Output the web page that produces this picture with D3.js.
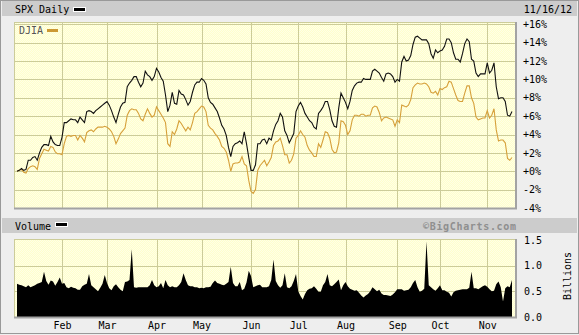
<!DOCTYPE html>
<html>
<head>
<meta charset="utf-8">
<script src="https://cdn.jsdelivr.net/npm/d3@7"></script>
<style>
body { margin: 0; background: #eeeeee; }
svg { display: block; }
text { font-family: "DejaVu Sans Mono", monospace; font-size: 10px; }
</style>
</head>
<body>
<svg id="chart" width="579" height="335"></svg>
<script>
// percent change since Jan 3 2012, one value per trading day (Jan 3 .. Nov 16)
var spx = [
  0.0, 0.1, 0.3, 0.1, 0.2, 1.2, 1.2, 1.5, 1.6, 1.2,
  2.0, 2.6, 2.9, 2.9, 2.8, 3.8, 3.2, 2.9, 2.8, 2.8,
  3.7, 5.3, 5.3, 5.5, 5.7, 5.6, 5.6, 5.3, 5.9, 5.6,
  5.3, 6.5, 6.6, 6.5, 6.3, 6.6, 6.8, 7.0, 7.2, 7.4,
  7.6, 7.2, 6.6, 5.9, 5.3, 6.2, 7.0, 7.4, 7.5, 9.2,
  9.6, 9.9, 10.3, 10.3, 9.7, 9.2, 9.6, 10.9, 10.5, 10.3,
  9.9, 10.3, 11.2, 10.8, 10.2, 9.8, 8.3, 6.5, 7.2, 8.6,
  7.4, 7.3, 8.8, 8.4, 8.3, 7.8, 7.2, 7.6, 8.6, 9.4,
  9.7, 9.7, 10.1, 9.9, 9.5, 8.0, 7.5, 7.3, 6.9, 6.5,
  5.8, 5.0, 4.6, 3.9, 2.6, 1.6, 2.7, 3.0, 3.1, 3.3,
  3.0, 4.3, 3.0, 1.5, 0.1, 0.1, 0.7, 3.0, 3.0, 3.4,
  3.5, 3.0, 3.6, 3.4, 4.4, 5.1, 5.5, 6.3, 5.9, 4.4,
  3.9, 3.1, 3.6, 4.1, 6.5, 7.1, 7.5, 7.0, 6.3, 5.9,
  5.5, 5.3, 4.8, 4.6, 6.3, 6.6, 7.0, 7.6, 7.6, 6.7,
  5.5, 4.9, 4.8, 6.9, 8.5, 8.0, 7.5, 6.8, 7.6, 8.8,
  9.3, 9.6, 9.7, 9.7, 10.1, 10.0, 10.0, 10.0, 10.9, 11.1,
  10.9, 10.7, 10.2, 9.8, 10.6, 10.7, 10.6, 10.3, 9.7, 10.0,
  9.8, 11.9, 12.5, 12.0, 12.1, 12.6, 13.8, 14.6, 14.7, 14.5,
  14.3, 14.3, 14.3, 13.9, 12.8, 12.3, 13.2, 12.9, 13.1, 13.2,
  13.6, 14.4, 14.4, 14.0, 12.9, 12.2, 12.2, 11.9, 12.8, 13.9,
  14.4, 14.1, 12.2, 12.0, 10.7, 10.3, 10.6, 10.6, 10.6, 11.8,
  10.7, 11.0, 11.8, 9.2, 7.9, 8.0, 8.0, 7.6, 6.1, 6.0,
  6.5
];
var djia = [
  0.0, 0.1, 0.2, -0.1, -0.2, 0.3, 0.5, 0.6, 0.5, 0.2,
  1.4, 1.9, 2.4, 2.3, 2.2, 2.7, 2.6, 2.1, 1.9, 1.9,
  1.8, 3.0, 3.8, 3.9, 3.8, 3.9, 3.9, 3.4, 3.9, 3.6,
  3.2, 4.2, 4.4, 4.5, 4.3, 4.6, 4.8, 4.8, 4.8, 4.9,
  4.8, 4.6, 4.3, 3.8, 3.0, 3.5, 4.1, 4.4, 4.7, 6.1,
  6.6, 6.8, 6.7, 6.7, 6.3, 5.7, 5.5, 6.2, 6.8, 6.3,
  5.9, 6.1, 7.0, 6.6, 6.2, 5.8, 5.3, 3.0, 2.7, 4.3,
  4.0, 4.6, 5.5, 5.2, 4.8, 4.4, 4.8, 4.5, 5.3, 6.3,
  6.5, 6.8, 7.1, 7.0, 6.5, 5.0, 4.7, 4.5, 4.1, 3.8,
  3.4, 2.7, 2.5, 2.1, 1.2, 0.0, 0.8, 0.9, 0.9, 1.0,
  1.6, 0.8, 0.6, -1.0, -2.2, -2.4, -2.0, 0.1, 0.6, 0.9,
  1.2, 0.6, 1.0, 1.5, 2.8, 3.2, 3.3, 3.6, 2.8, 1.8,
  1.8, 0.9, 1.2, 1.9, 3.6, 3.9, 4.4, 4.0, 3.7, 2.8,
  2.3, 2.0, 1.6, 1.6, 3.0, 2.6, 3.4, 4.3, 4.2, 3.6,
  2.4, 2.0, 2.1, 3.1, 5.5, 5.4, 5.0, 4.0, 4.4, 5.6,
  6.1, 6.1, 6.0, 6.2, 6.2, 6.0, 6.1, 6.1, 6.9, 7.1,
  7.0, 6.4, 5.5, 5.8, 5.9, 5.8, 5.7, 5.6, 4.9, 5.6,
  5.3, 7.2, 7.1, 7.0, 7.2, 7.8, 9.1, 9.4, 9.6, 9.5,
  9.5, 9.6, 9.5, 9.2, 8.6, 8.5, 8.7, 8.3, 9.0, 8.9,
  9.1, 9.2, 9.8, 9.7, 9.0, 8.3, 7.7, 7.6, 7.6, 8.5,
  9.3, 9.3, 8.0, 7.4, 5.9, 5.6, 5.7, 5.8, 5.8, 6.6,
  5.8, 6.1, 6.8, 4.5, 3.3, 3.4, 3.4, 3.1, 1.4, 1.2,
  1.5
];
// SPX volume, billions of shares
var volume = [
  0.65, 0.63, 0.62, 0.60, 0.58, 0.62, 0.58, 0.60, 0.62, 0.65,
  0.66, 0.68, 0.88, 0.70, 0.63, 0.71, 0.69, 0.61, 0.68, 0.77,
  0.65, 0.66, 0.58, 0.56, 0.59, 0.57, 0.56, 0.53, 0.53, 0.60,
  0.63, 0.65, 0.84, 0.62, 0.58, 0.54, 0.50, 0.57, 0.65, 0.82,
  0.66, 0.56, 0.52, 0.60, 0.64, 0.58, 0.53, 0.50, 0.68, 0.69,
  0.72, 1.32, 0.58, 0.57, 0.58, 0.58, 0.58, 0.58, 0.58, 0.62,
  0.72, 0.62, 0.58, 0.60, 0.66, 0.56, 0.72, 0.62, 0.58, 0.60,
  0.58, 0.58, 0.62, 0.68, 0.85, 0.72, 0.62, 0.60, 0.60, 0.58,
  0.58, 0.56, 0.57, 0.56, 0.58, 0.58, 0.59, 0.66, 0.71, 0.66,
  0.65, 0.63, 0.62, 0.65, 0.68, 0.98, 0.66, 0.60, 0.60, 0.68,
  0.52, 0.55, 0.67, 0.90, 0.80, 0.58, 0.60, 0.62, 0.63, 0.58,
  0.58, 0.58, 0.60, 0.72, 1.12, 0.70, 0.62, 0.57, 0.62, 0.85,
  0.58, 0.56, 0.60, 0.70, 0.84, 0.50, 0.41, 0.34, 0.45, 0.52,
  0.55, 0.56, 0.60, 0.55, 0.49, 0.49, 0.62, 0.68, 0.84, 0.62,
  0.60, 0.64, 0.68, 0.73, 0.52, 0.62, 0.68, 0.60, 0.55, 0.53,
  0.51, 0.52, 0.47, 0.42, 0.38, 0.42, 0.45, 0.50, 0.58, 0.54,
  0.50, 0.53, 0.46, 0.43, 0.43, 0.42, 0.41, 0.44, 0.48, 0.54,
  0.54, 0.54, 0.51, 0.52, 0.53, 0.58, 0.66, 0.72, 0.58, 0.49,
  0.51, 0.55, 1.47, 0.62, 0.58, 0.54, 0.51, 0.56, 0.62, 0.52,
  0.52, 0.49, 0.47, 0.40, 0.48, 0.51, 0.52, 0.53, 0.54, 0.54,
  0.54, 0.57, 0.88, 0.56, 0.56, 0.54, 0.57, 0.60, 0.62, 0.59,
  0.54, 0.50, 0.51, 0.64, 0.69, 0.58, 0.30, 0.56, 0.60, 0.58,
  0.72
];
// first trading day of each month (index into the series) and its label
var monthStart = [20, 40, 62, 82, 104, 125, 146, 169, 188, 209];
var monthLabels = ["Feb", "Mar", "Apr", "May", "Jun", "Jul", "Aug", "Sep", "Oct", "Nov"];
var pctTicks = [16, 14, 12, 10, 8, 6, 4, 2, 0, -2, -4];
var volTicks = [0, 0.5, 1.0, 1.5];
var lastDate = "11/16/12";

var W = 579, H = 335;
var pLeft = 14, pRight = 516, pTop = 22, pBottom = 208;
var vTop = 239, vBottom = 317;
var grid = "#cccc99", shade = "#a3a3a3", orange = "#d6a03a";

var svg = d3.select("#chart");

var x = d3.scaleLinear().domain([0, spx.length - 1]).range([17, 512]);
var y = d3.scaleLinear().domain([-4, 16]).range([pBottom, 24.3]);
var yv = d3.scaleLinear().domain([0, 1.5]).range([vBottom, 240]);

// dotted yellow fill
var pat = svg.append("defs").append("pattern")
    .attr("id", "dots").attr("width", 2).attr("height", 2)
    .attr("patternUnits", "userSpaceOnUse");
pat.append("rect").attr("width", 2).attr("height", 2).attr("fill", "#ffffcc");
pat.append("rect").attr("width", 1).attr("height", 1).attr("fill", "#ffffe6");
pat.append("rect").attr("x", 1).attr("y", 1).attr("width", 1).attr("height", 1).attr("fill", "#ffffe6");

// frame + header bars
svg.append("rect").attr("x", 0.5).attr("y", 0.5).attr("width", W - 1).attr("height", H - 2)
    .attr("fill", "#eeeeee").attr("stroke", "#999");
svg.append("rect").attr("x", 2).attr("y", 1).attr("width", W - 4).attr("height", 15).attr("fill", "#cccccc");
svg.append("rect").attr("x", 2).attr("y", 218).attr("width", W - 4).attr("height", 15).attr("fill", "#cccccc");

function panel(y0, y1) {
    svg.append("rect").attr("x", pLeft).attr("y", y0).attr("width", pRight - pLeft).attr("height", y1 - y0)
        .attr("fill", "url(#dots)");
    svg.append("line").attr("x1", pLeft).attr("x2", pRight).attr("y1", y0 + 0.5).attr("y2", y0 + 0.5)
        .attr("stroke", grid);
    svg.append("line").attr("x1", pLeft + 0.5).attr("x2", pLeft + 0.5).attr("y1", y0).attr("y2", y1)
        .attr("stroke", grid);
    svg.selectAll(null).data(monthStart).enter().append("line")
        .attr("x1", function (d) { return Math.round(x(d)) + 0.5; })
        .attr("x2", function (d) { return Math.round(x(d)) + 0.5; })
        .attr("y1", y0).attr("y2", y1)
        .attr("stroke", grid);
}

// ---- price panel ----
panel(pTop, pBottom);
svg.selectAll(null).data(pctTicks.filter(function (d) { return d > -4; })).enter().append("line")
    .attr("x1", pLeft).attr("x2", pRight)
    .attr("y1", function (d) { return Math.round(y(d)) + 0.5; })
    .attr("y2", function (d) { return Math.round(y(d)) + 0.5; })
    .attr("stroke", grid);

var line = d3.line()
    .x(function (d, i) { return x(i); })
    .y(function (d) { return y(d); });

svg.append("path").datum(djia).attr("d", line)
    .attr("fill", "none").attr("stroke", orange).attr("stroke-width", 1.1);
svg.append("path").datum(spx).attr("d", line)
    .attr("fill", "none").attr("stroke", "#111").attr("stroke-width", 1.1);

svg.append("line").attr("x1", pLeft).attr("x2", pRight + 1).attr("y1", pBottom + 0.5).attr("y2", pBottom + 0.5)
    .attr("stroke", shade).attr("stroke-width", 2);
svg.append("line").attr("x1", pRight).attr("x2", pRight).attr("y1", pTop).attr("y2", pBottom + 1)
    .attr("stroke", shade).attr("stroke-width", 2);

svg.append("g").attr("transform", "translate(" + pRight + ",0)")
    .call(d3.axisRight(y).tickValues(pctTicks).tickSize(0).tickPadding(7)
        .tickFormat(function (d) { return (d >= 0 ? "+" : "") + d + "%"; }))
    .call(function (g) { g.select(".domain").remove(); })
    .selectAll("text").attr("font-family", "DejaVu Sans Mono").attr("font-size", 10).attr("fill", "#000");

// ---- volume panel ----
panel(vTop, vBottom);
svg.selectAll(null).data([0.5, 1.0]).enter().append("line")
    .attr("x1", pLeft).attr("x2", pRight)
    .attr("y1", function (d) { return Math.round(yv(d)) + 0.5; })
    .attr("y2", function (d) { return Math.round(yv(d)) + 0.5; })
    .attr("stroke", grid);

var area = d3.area()
    .x(function (d, i) { return x(i); })
    .y0(yv(0))
    .y1(function (d) { return yv(d); });
svg.append("path").datum(volume).attr("d", area).attr("fill", "#000");

svg.append("line").attr("x1", pLeft).attr("x2", pRight + 1).attr("y1", vBottom + 0.5).attr("y2", vBottom + 0.5)
    .attr("stroke", shade).attr("stroke-width", 2);
svg.append("line").attr("x1", pRight).attr("x2", pRight).attr("y1", vTop).attr("y2", vBottom + 1)
    .attr("stroke", shade).attr("stroke-width", 2);

svg.append("g").attr("transform", "translate(" + pRight + ",0)")
    .call(d3.axisRight(yv).tickValues(volTicks).tickSize(0).tickPadding(8)
        .tickFormat(d3.format(".1f")))
    .call(function (g) { g.select(".domain").remove(); })
    .selectAll("text").attr("font-family", "DejaVu Sans Mono").attr("font-size", 10).attr("fill", "#000");

svg.append("text").attr("transform", "translate(567,276) rotate(-90)")
    .attr("text-anchor", "middle").attr("dy", "0.35em").text("Billions");

// month labels under the volume panel
svg.append("g").attr("transform", "translate(0," + vBottom + ")")
    .call(d3.axisBottom(x).tickValues(monthStart).tickSize(0).tickPadding(5)
        .tickFormat(function (d, i) { return monthLabels[i]; }))
    .call(function (g) { g.select(".domain").remove(); })
    .selectAll("text").attr("font-family", "DejaVu Sans Mono").attr("font-size", 10).attr("fill", "#000");

// ---- titles and legends ----
svg.append("text").attr("x", 15).attr("y", 13).text("SPX Daily");
svg.append("rect").attr("x", 73.5).attr("y", 7.5).attr("width", 12).attr("height", 4)
    .attr("fill", "#000").attr("stroke", "#fff");
svg.append("text").attr("x", 572).attr("y", 13).attr("text-anchor", "end").text(lastDate);

svg.append("text").attr("x", 19).attr("y", 34).attr("fill", "#555").text("DJIA");
svg.append("rect").attr("x", 47).attr("y", 29).attr("width", 11).attr("height", 3).attr("fill", "#cc9933");

svg.append("text").attr("x", 15).attr("y", 229.5).text("Volume");
svg.append("rect").attr("x", 55.5).attr("y", 222.5).attr("width", 12).attr("height", 4)
    .attr("fill", "#000").attr("stroke", "#fff");
svg.append("text").attr("x", 516).attr("y", 230).attr("text-anchor", "end")
    .attr("font-family", "DejaVu Sans").attr("font-weight", "bold").attr("font-size", 12)
    .attr("textLength", 93).attr("fill", "#8f8f8f").text("\u00a9BigCharts.com");
</script>
</body>
</html>
